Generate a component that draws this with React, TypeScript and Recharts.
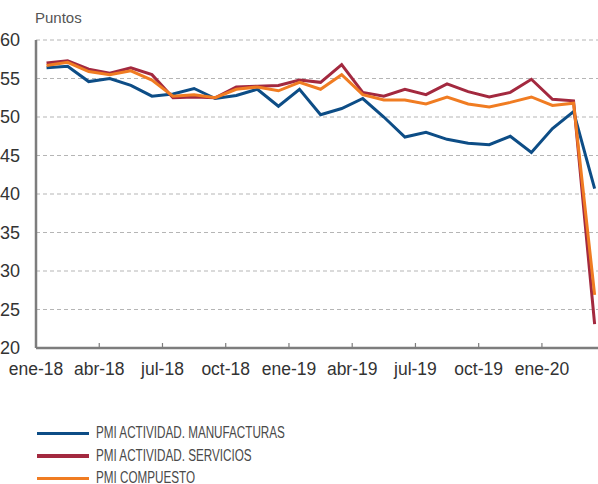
import React from 'react';
import { LineChart, Line, XAxis, YAxis, CartesianGrid, Legend } from 'recharts';

const months = [
  'ene-18', 'feb-18', 'mar-18', 'abr-18', 'may-18', 'jun-18', 'jul-18', 'ago-18', 'sep-18',
  'oct-18', 'nov-18', 'dic-18', 'ene-19', 'feb-19', 'mar-19', 'abr-19', 'may-19', 'jun-19',
  'jul-19', 'ago-19', 'sep-19', 'oct-19', 'nov-19', 'dic-19', 'ene-20', 'feb-20', 'mar-20',
];

const manufacturas = [
  56.4, 56.6, 54.6, 55.0, 54.1, 52.7, 53.0, 53.7, 52.4, 52.8, 53.6, 51.4, 53.6,
  50.3, 51.1, 52.4, 50.0, 47.4, 48.0, 47.1, 46.6, 46.4, 47.5, 45.4, 48.5, 50.7, 40.7,
];
const servicios = [
  57.0, 57.3, 56.2, 55.7, 56.4, 55.5, 52.5, 52.6, 52.5, 53.9, 54.0, 54.1, 54.8,
  54.5, 56.8, 53.2, 52.7, 53.6, 52.9, 54.3, 53.3, 52.6, 53.2, 54.9, 52.3, 52.1, 23.1,
];
const compuesto = [
  56.7, 57.1, 55.9, 55.5, 56.0, 54.8, 52.7, 52.9, 52.5, 53.6, 53.9, 53.4, 54.5,
  53.6, 55.5, 52.9, 52.2, 52.2, 51.7, 52.6, 51.7, 51.3, 51.9, 52.6, 51.5, 51.8, 26.9,
];

const yTicks = [20, 25, 30, 35, 40, 45, 50, 55, 60];
// quarter labels sit on the boundary before each month
const xTicks = [-0.5, 2.5, 5.5, 8.5, 11.5, 14.5, 17.5, 20.5, 23.5];

const series = [
  { key: 'manufacturas', name: 'PMI ACTIVIDAD. MANUFACTURAS', color: '#0d4d86' },
  { key: 'servicios', name: 'PMI ACTIVIDAD. SERVICIOS', color: '#a3293f' },
  { key: 'compuesto', name: 'PMI COMPUESTO', color: '#f07c22' },
];

const data = months.map((m, i) => ({
  i,
  month: m,
  manufacturas: manufacturas[i],
  servicios: servicios[i],
  compuesto: compuesto[i],
}));

const axisColor = '#7d7d7d';
const font = '"Liberation Sans", Arial, sans-serif';

const renderLegend = () => (
  <div style={{ fontFamily: font, fontSize: 16, color: '#4a4a4a' }}>
    {series.map((s) => (
      <div key={s.key} style={{ display: 'flex', alignItems: 'center', height: 22.5 }}>
        <div style={{ width: 52, height: 3.5, background: s.color, marginRight: 7, flex: 'none' }} />
        <span style={{ display: 'inline-block', transform: 'scaleX(0.73)', transformOrigin: 'left center', whiteSpace: 'nowrap' }}>
          {s.name}
        </span>
      </div>
    ))}
  </div>
);

export default function App() {
  return (
    <div style={{ position: 'absolute', left: 0, top: 0, width: 598, height: 484, background: '#fff' }}>
      <div style={{ position: 'absolute', left: 35, top: 9, fontFamily: font, fontSize: 15, color: '#555' }}>Puntos</div>
      <LineChart width={598} height={484} data={data} margin={{ top: 40, right: 0, left: 0, bottom: 0 }}>
        <CartesianGrid vertical={false} stroke="#b5b5b5" strokeDasharray="4 3" />
        <XAxis
          dataKey="i"
          type="number"
          domain={[-0.5, 26.16]}
          allowDataOverflow
          ticks={xTicks}
          interval={0}
          tickFormatter={(v: number) => months[Math.round(v + 0.5)] ?? ''}
          height={136}
          axisLine={{ stroke: axisColor, strokeWidth: 2.5 }}
          tickLine={{ stroke: axisColor, strokeWidth: 1.2 }}
          tickSize={-5}
          tickMargin={20}
          tick={{ fill: '#333', fontSize: 17.5, fontFamily: font }}
        />
        <YAxis
          domain={[20, 60]}
          ticks={yTicks}
          interval={0}
          width={36}
          axisLine={{ stroke: axisColor, strokeWidth: 2.5 }}
          tickLine={false}
          tickSize={0}
          tickMargin={16}
          tick={{ fill: '#333', fontSize: 18, fontFamily: font }}
        />
        <Legend
          layout="vertical"
          verticalAlign="middle"
          align="center"
          content={renderLegend}
          wrapperStyle={{ left: 37, top: 422, width: 400, height: 70 }}
        />
        {series.map((s) => (
          <Line
            key={s.key}
            dataKey={s.key}
            name={s.name}
            stroke={s.color}
            strokeWidth={3}
            dot={false}
            activeDot={false}
            type="linear"
            isAnimationActive={false}
          />
        ))}
      </LineChart>
    </div>
  );
}
